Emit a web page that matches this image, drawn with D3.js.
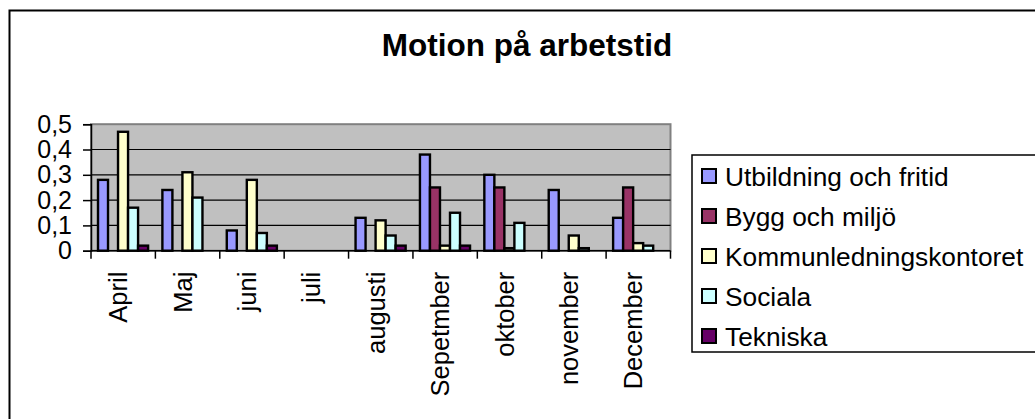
<!DOCTYPE html>
<html>
<head>
<meta charset="utf-8">
<script src="https://cdn.jsdelivr.net/npm/d3@7"></script>
<style>
  body { margin: 0; background: #fff; }
  text { font-family: "Liberation Sans", Arial, sans-serif; }
</style>
</head>
<body>
<div id="chart"></div>
<script>
// data
const months = ["April", "Maj", "juni", "juli", "augusti", "Sepetmber", "oktober", "november", "December"];
const seriesNames = ["Utbildning och fritid", "Bygg och miljö", "Kommunledningskontoret", "Sociala", "Tekniska"];
const utbildning = [0.28, 0.24, 0.08, 0, 0.13, 0.38, 0.30, 0.24, 0.13];
const bygg = [0, 0, 0, 0, 0, 0.25, 0.25, 0, 0.25];
const kommun = [0.47, 0.31, 0.28, 0, 0.12, 0.02, 0.01, 0.06, 0.03];
const sociala = [0.17, 0.21, 0.07, 0, 0.06, 0.15, 0.11, 0.01, 0.02];
const tekniska = [0.02, 0, 0.02, 0, 0.02, 0.02, 0, 0, 0];
const yTicks = [0, 0.1, 0.2, 0.3, 0.4, 0.5];
const colors = ["#9999FF", "#993366", "#FFFFCC", "#CCFFFF", "#660066"];

const series = [utbildning, bygg, kommun, sociala, tekniska];

const width = 1035, height = 419;
const plot = { left: 91, right: 670.5, top: 124.2, bottom: 250.7 };

const svg = d3.select("#chart").append("svg")
  .attr("width", width)
  .attr("height", height);

// outer chart frame (runs off the right and bottom edge)
svg.append("rect")
  .attr("x", 9.5).attr("y", 10.5)
  .attr("width", width).attr("height", height)
  .attr("fill", "#fff")
  .attr("stroke", "#000")
  .attr("stroke-width", 2);

svg.append("text")
  .attr("x", 527).attr("y", 56)
  .attr("text-anchor", "middle")
  .style("font-size", "31.5px")
  .style("font-weight", "bold")
  .text("Motion på arbetstid");

const xScale = d3.scaleBand()
  .domain(months)
  .range([plot.left, plot.right])
  .padding(0);

const inner = d3.scaleBand()
  .domain(seriesNames)
  .range([7, xScale.bandwidth() - 7.3])
  .padding(0);

const yScale = d3.scaleLinear()
  .domain([0, 0.5])
  .range([plot.bottom, plot.top]);

// plot background
svg.append("rect")
  .attr("x", plot.left).attr("y", plot.top)
  .attr("width", plot.right - plot.left)
  .attr("height", plot.bottom - plot.top)
  .attr("fill", "#C0C0C0")
  .attr("stroke", "#808080")
  .attr("stroke-width", 2);

// gridlines
svg.append("g")
  .selectAll("line")
  .data(yTicks.filter(d => d > 0 && d < 0.5))
  .join("line")
  .attr("x1", plot.left).attr("x2", plot.right)
  .attr("y1", d => yScale(d)).attr("y2", d => yScale(d))
  .attr("stroke", "#000")
  .attr("stroke-width", 1.2);

// bars
const groups = svg.append("g")
  .selectAll("g")
  .data(months)
  .join("g")
  .attr("transform", d => `translate(${xScale(d)},0)`);

groups.selectAll("rect")
  .data((m, i) => series.map((s, k) => ({ name: seriesNames[k], value: s[i], color: colors[k] })).filter(d => d.value > 0))
  .join("rect")
  .attr("x", d => inner(d.name))
  .attr("width", inner.bandwidth())
  .attr("y", d => yScale(d.value))
  .attr("height", d => yScale(0) - yScale(d.value))
  .attr("fill", d => d.color)
  .attr("stroke", "#000")
  .attr("stroke-width", 2.4);

// y axis
const yAxis = d3.axisLeft(yScale)
  .tickValues(yTicks)
  .tickSize(8)
  .tickPadding(11)
  .tickFormat(d => d === 0 ? "0" : d3.format(".1f")(d).replace(".", ","));

const yAxisGroup = svg.append("g")
  .attr("transform", `translate(${plot.left},0)`)
  .call(yAxis);
yAxisGroup.attr("font-size", null).attr("font-family", null);
yAxisGroup.select(".domain").attr("stroke-width", 1.5);
yAxisGroup.selectAll(".tick line").attr("stroke-width", 1.5);
yAxisGroup.selectAll("text")
  .style("font-size", "25px")
  .attr("fill", "#000");

// x axis: labels at band centres, ticks at band boundaries
const xAxis = d3.axisBottom(xScale).tickSize(0).tickPadding(0);
const xAxisGroup = svg.append("g")
  .attr("transform", `translate(0,${plot.bottom})`)
  .call(xAxis);
xAxisGroup.attr("font-size", null).attr("font-family", null);
xAxisGroup.select(".domain").attr("stroke-width", 1.5).attr("d", `M${plot.left},0H${plot.right}`);
xAxisGroup.selectAll("text")
  .style("font-size", "25.5px")
  .attr("fill", "#000")
  .attr("text-anchor", "end")
  .attr("dy", 0)
  .attr("transform", "translate(4,21) rotate(-90)")
  .attr("x", 0).attr("y", 0);

xAxisGroup.selectAll(".boundary")
  .data(months.map(m => xScale(m)).concat([plot.right]))
  .join("line")
  .attr("class", "boundary")
  .attr("x1", d => d).attr("x2", d => d)
  .attr("y1", 0).attr("y2", 8)
  .attr("stroke", "#000")
  .attr("stroke-width", 1.5);

// legend
const legend = svg.append("g");
legend.append("rect")
  .attr("x", 692).attr("y", 155)
  .attr("width", 400).attr("height", 197)
  .attr("fill", "#fff")
  .attr("stroke", "#000")
  .attr("stroke-width", 1.5);

const items = legend.selectAll(".item")
  .data(seriesNames)
  .join("g")
  .attr("class", "item")
  .attr("transform", (d, i) => `translate(702,${176.5 + i * 40})`);

items.append("rect")
  .attr("x", 0).attr("y", -7.5)
  .attr("width", 14).attr("height", 14)
  .attr("fill", (d, i) => colors[i])
  .attr("stroke", "#000")
  .attr("stroke-width", 2);

items.append("text")
  .attr("x", 23).attr("y", 9)
  .style("font-size", "26.3px")
  .text(d => d);
</script>
</body>
</html>
